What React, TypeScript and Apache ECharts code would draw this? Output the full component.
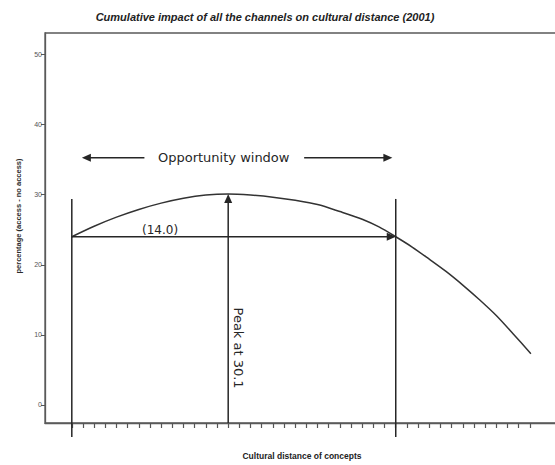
import React, { useEffect, useRef } from "react";
import * as echarts from "echarts";

// Curve: cumulative impact vs. cultural distance (x in tick units)
const distance = [0, 2, 4, 6, 8, 10, 12, 14, 16, 18, 20, 22, 24, 26, 27.5, 29, 30.5, 32, 33.5, 35, 36.5, 38, 39.5, 41.1];
const impact = [24.0, 25.5, 26.8, 27.9, 28.8, 29.5, 29.95, 30.1, 29.95, 29.65, 29.2, 28.6, 27.6, 26.5, 25.4, 24.0, 22.5, 20.8, 19.05, 17.1, 15.0, 12.75, 10.15, 7.3];

// Axis ticks
const yTickValues = [0, 10, 20, 30, 40, 50];
const xTickValues = Array.from({ length: 42 }, (_, i) => i);

// Annotated quantities
const windowStart = 0;
const windowEnd = 29;
const windowLevel = 24.0;
const peakX = 14.0;
const peakY = 30.1;
const bandLevel = 35.3;

const X_MIN = -2.4;
const X_MAX = 44.6;
const Y_MIN = -2.6;
const Y_MAX = 53.1;

const INK = "#262626";
const ANNOT_FONT = '"DejaVu Sans", "Noto Sans", sans-serif';

export default function App() {
  const ref = useRef<HTMLDivElement>(null);

  useEffect(() => {
    if (!ref.current) return;
    const chart = echarts.init(ref.current, undefined, { renderer: "svg" });

    const head = (tip: number[], dir: "up" | "right" | "left") => {
      const L = 9;
      const W = 4;
      let pts: number[][];
      if (dir === "up") pts = [tip, [tip[0] - W, tip[1] + L], [tip[0] + W, tip[1] + L]];
      else if (dir === "right") pts = [tip, [tip[0] - L, tip[1] - W], [tip[0] - L, tip[1] + W]];
      else pts = [tip, [tip[0] + L, tip[1] - W], [tip[0] + L, tip[1] + W]];
      return { type: "polygon", shape: { points: pts }, style: { fill: INK } };
    };
    const seg = (a: number[], b: number[]) => ({
      type: "line",
      shape: { x1: a[0], y1: a[1], x2: b[0], y2: b[1] },
      style: { stroke: INK, lineWidth: 1.5 },
    });

    const annotations = {
      type: "custom",
      coordinateSystem: "cartesian2d",
      data: [[0, 0]],
      clip: false,
      silent: true,
      z: 5,
      renderItem: (_params: any, api: any) => {
        const c = (x: number, y: number) => api.coord([x, y]);
        const leftTop = c(windowStart, 29.4);
        const leftBot = c(windowStart, -4.6);
        const rightTop = c(windowEnd, 29.4);
        const rightBot = c(windowEnd, -4.6);
        const hStart = c(windowStart, windowLevel);
        const hEnd = c(windowEnd, windowLevel);
        const vBot = c(peakX, Y_MIN);
        const vTop = c(peakX, peakY);
        const bL1 = c(0.9, bandLevel);
        const bL2 = c(6.5, bandLevel);
        const bR1 = c(20.8, bandLevel);
        const bR2 = c(28.7, bandLevel);
        const bText = c(13.6, bandLevel);
        const widthLabel = c(7.9, windowLevel);
        const peakLabel = c(peakX, 8.1);
        return {
          type: "group",
          children: [
            seg(leftTop, leftBot),
            seg(rightTop, rightBot),
            seg(hStart, [hEnd[0] - 6, hEnd[1]]),
            head(hEnd, "right"),
            seg(vBot, [vTop[0], vTop[1] + 6]),
            head(vTop, "up"),
            seg([bL1[0] + 6, bL1[1]], bL2),
            head(bL1, "left"),
            seg(bR1, [bR2[0] - 6, bR2[1]]),
            head(bR2, "right"),
            {
              type: "text",
              x: bText[0],
              y: bText[1],
              style: {
                text: "Opportunity window",
                fill: INK,
                font: `13px ${ANNOT_FONT}`,
                align: "center",
                verticalAlign: "middle",
              },
            },
            {
              type: "text",
              x: widthLabel[0],
              y: widthLabel[1] - 1,
              style: {
                text: "(14.0)",
                fill: INK,
                font: `12px ${ANNOT_FONT}`,
                align: "center",
                verticalAlign: "bottom",
              },
            },
            {
              type: "text",
              x: peakLabel[0] + 10,
              y: peakLabel[1],
              rotation: -Math.PI / 2,
              style: {
                text: "Peak at 30.1",
                fill: INK,
                font: `13px ${ANNOT_FONT}`,
                align: "center",
                verticalAlign: "middle",
              },
            },
          ],
        };
      },
    };

    chart.setOption({
      animation: false,
      backgroundColor: "#ffffff",
      grid: {
        show: true,
        left: 45,
        top: 33,
        bottom: 42,
        right: 10,
        borderColor: "#5a5a5a",
        borderWidth: 1.3,
        backgroundColor: "transparent",
      },
      graphic: [
        {
          type: "text",
          x: 265,
          y: 17,
          style: {
            text: "Cumulative impact of all the channels on cultural distance (2001)",
            font: 'italic bold 11px "Liberation Sans", Arial, sans-serif',
            fill: "#222",
            align: "center",
            verticalAlign: "middle",
          },
        },
        {
          type: "text",
          x: 18,
          y: 216,
          rotation: Math.PI / 2,
          style: {
            text: "percentage (access - no access)",
            font: 'bold 7.5px "Liberation Sans", Arial, sans-serif',
            fill: "#2a2a2a",
            align: "center",
            verticalAlign: "middle",
          },
        },
        {
          type: "text",
          x: 302,
          y: 456,
          style: {
            text: "Cultural distance of concepts",
            font: 'bold 8.5px "Liberation Sans", Arial, sans-serif',
            fill: "#222",
            align: "center",
            verticalAlign: "middle",
          },
        },
      ],
      xAxis: {
        type: "value",
        min: X_MIN,
        max: X_MAX,
        axisLine: { show: true, onZero: false, lineStyle: { color: "#5a5a5a", width: 1.3 } },
        axisTick: {
          show: true,
          customValues: xTickValues,
          length: 5,
          inside: false,
          lineStyle: { color: "#555", width: 1.2 },
        },
        axisLabel: { show: false },
        splitLine: { show: false },
      },
      yAxis: {
        type: "value",
        min: Y_MIN,
        max: Y_MAX,
        axisLine: { show: true, onZero: false, lineStyle: { color: "#5a5a5a", width: 1.3 } },
        axisTick: {
          show: true,
          customValues: yTickValues,
          length: 4,
          lineStyle: { color: "#555", width: 1 },
        },
        axisLabel: {
          show: true,
          customValues: yTickValues,
          margin: 3,
          fontSize: 7,
          color: "#555",
          fontFamily: "Liberation Sans, Arial, sans-serif",
        },
        splitLine: { show: false },
      },
      series: [
        {
          type: "line",
          data: distance.map((d, i) => [d, impact[i]]),
          smooth: 0.3,
          showSymbol: false,
          lineStyle: { color: "#333", width: 1.5 },
          z: 4,
        },
        annotations,
      ],
    });

    return () => chart.dispose();
  }, []);

  // The plot frame runs past the right edge, so the chart is wider than its clip box.
  return (
    <div
      style={{
        position: "absolute",
        left: 0,
        top: 0,
        width: 555,
        height: 465,
        overflow: "hidden",
      }}
    >
      <div ref={ref} style={{ width: 580, height: 465 }} />
    </div>
  );
}
